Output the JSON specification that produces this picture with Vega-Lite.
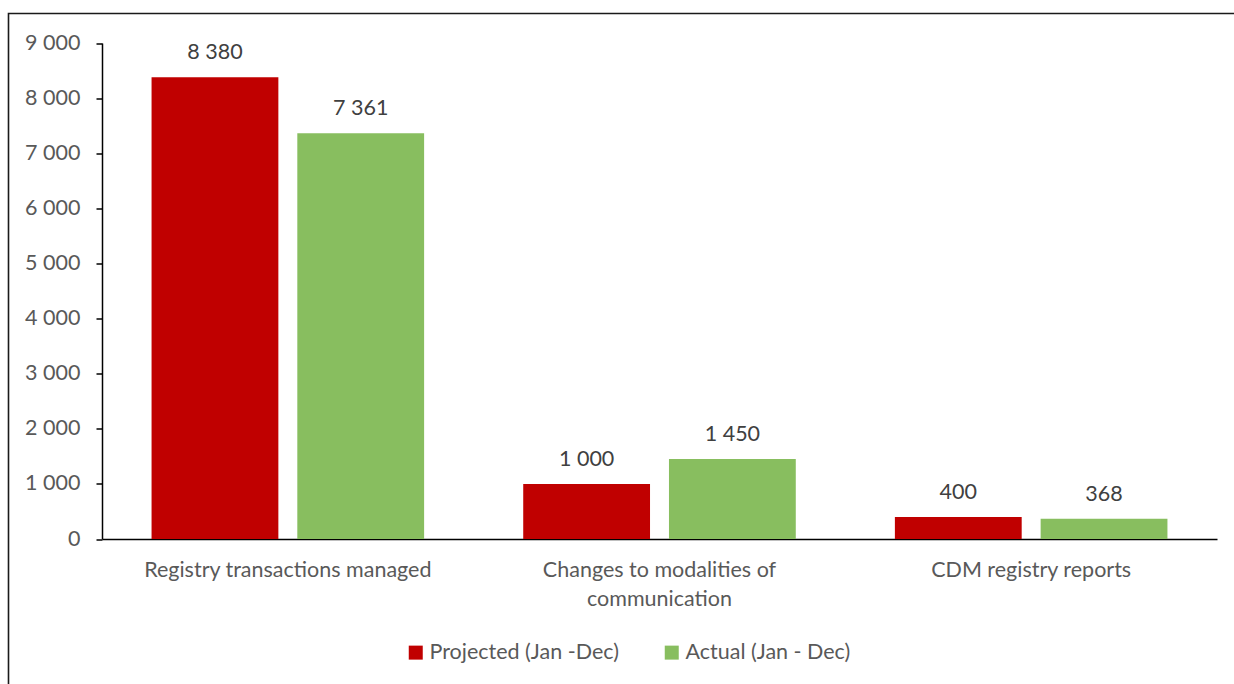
{
  "$schema": "https://vega.github.io/schema/vega-lite/v6.json",
  "autosize": "none",
  "padding": {"left": 8.5, "top": 13.5, "right": 0, "bottom": 0},
  "width": 1225.5,
  "height": 670.5,
  "background": "white",
  "config": {
    "locale": {"number": {"decimal": ".", "thousands": " ", "grouping": [3], "currency": ["", ""]}},
    "font": "Lato",
    "view": {"stroke": "#1a1a1a", "strokeWidth": 1.6, "strokeDash": [1225.5, 1896, 670.5]},
    "axis": {"labelFont": "Lato", "labelColor": "#595959", "labelFontSize": 21.5, "grid": false, "domainColor": "#000000", "domainWidth": 1.5, "tickColor": "#000000", "tickWidth": 1.5},
    "legend": {"labelFont": "Lato", "labelColor": "#595959", "labelFontSize": 21.5, "labelLimit": 400}
  },
  "data": {
    "values": [
      {"category": "Registry transactions managed", "series": "Projected (Jan -Dec)", "value": 8380},
      {"category": "Registry transactions managed", "series": "Actual (Jan - Dec)", "value": 7361},
      {"category": "Changes to modalities of communication", "series": "Projected (Jan -Dec)", "value": 1000},
      {"category": "Changes to modalities of communication", "series": "Actual (Jan - Dec)", "value": 1450},
      {"category": "CDM registry reports", "series": "Projected (Jan -Dec)", "value": 400},
      {"category": "CDM registry reports", "series": "Actual (Jan - Dec)", "value": 368}
    ]
  },
  "encoding": {
    "x": {
      "field": "category",
      "type": "nominal",
      "sort": null,
      "scale": {"range": [93.5, 1208.5], "paddingInner": 0, "paddingOuter": 0},
      "axis": {
        "title": null,
        "orient": "bottom",
        "offset": -145,
        "labelAngle": 0,
        "ticks": false,
        "labelPadding": 20,
        "labelLineHeight": 29,
        "labelLimit": 400,
        "labelExpr": "datum.label == 'Changes to modalities of communication' ? ['Changes to modalities of', 'communication'] : datum.label"
      }
    },
    "xOffset": {
      "field": "series",
      "type": "nominal",
      "sort": ["Projected (Jan -Dec)", "Actual (Jan - Dec)"],
      "scale": {"paddingInner": 0.13, "paddingOuter": 0.34}
    },
    "y": {
      "field": "value",
      "type": "quantitative",
      "scale": {"domain": [0, 9000], "range": [525.5, 29.5], "nice": false},
      "axis": {
        "title": null,
        "orient": "left",
        "offset": -93.5,
        "values": [0, 1000, 2000, 3000, 4000, 5000, 6000, 7000, 8000, 9000],
        "format": ",d",
        "tickSize": 6,
        "labelPadding": 16
      }
    }
  },
  "layer": [
    {
      "mark": {"type": "bar"},
      "encoding": {
        "color": {
          "field": "series",
          "type": "nominal",
          "sort": ["Projected (Jan -Dec)", "Actual (Jan - Dec)"],
          "scale": {"domain": ["Projected (Jan -Dec)", "Actual (Jan - Dec)"], "range": ["#C00000", "#88BE5F"]},
          "legend": {
            "title": null,
            "orient": "none",
            "direction": "horizontal",
            "legendX": 396.5,
            "legendY": 628,
            "symbolType": "square",
            "symbolSize": 196,
            "symbolStrokeWidth": 0,
            "labelOffset": 3,
            "columnPadding": 42
          }
        }
      }
    },
    {
      "mark": {"type": "text", "baseline": "middle", "dy": -24, "fontSize": 21.5, "color": "#404040", "font": "Lato"},
      "encoding": {
        "text": {"field": "value", "type": "quantitative", "format": ",d"}
      }
    }
  ]
}
